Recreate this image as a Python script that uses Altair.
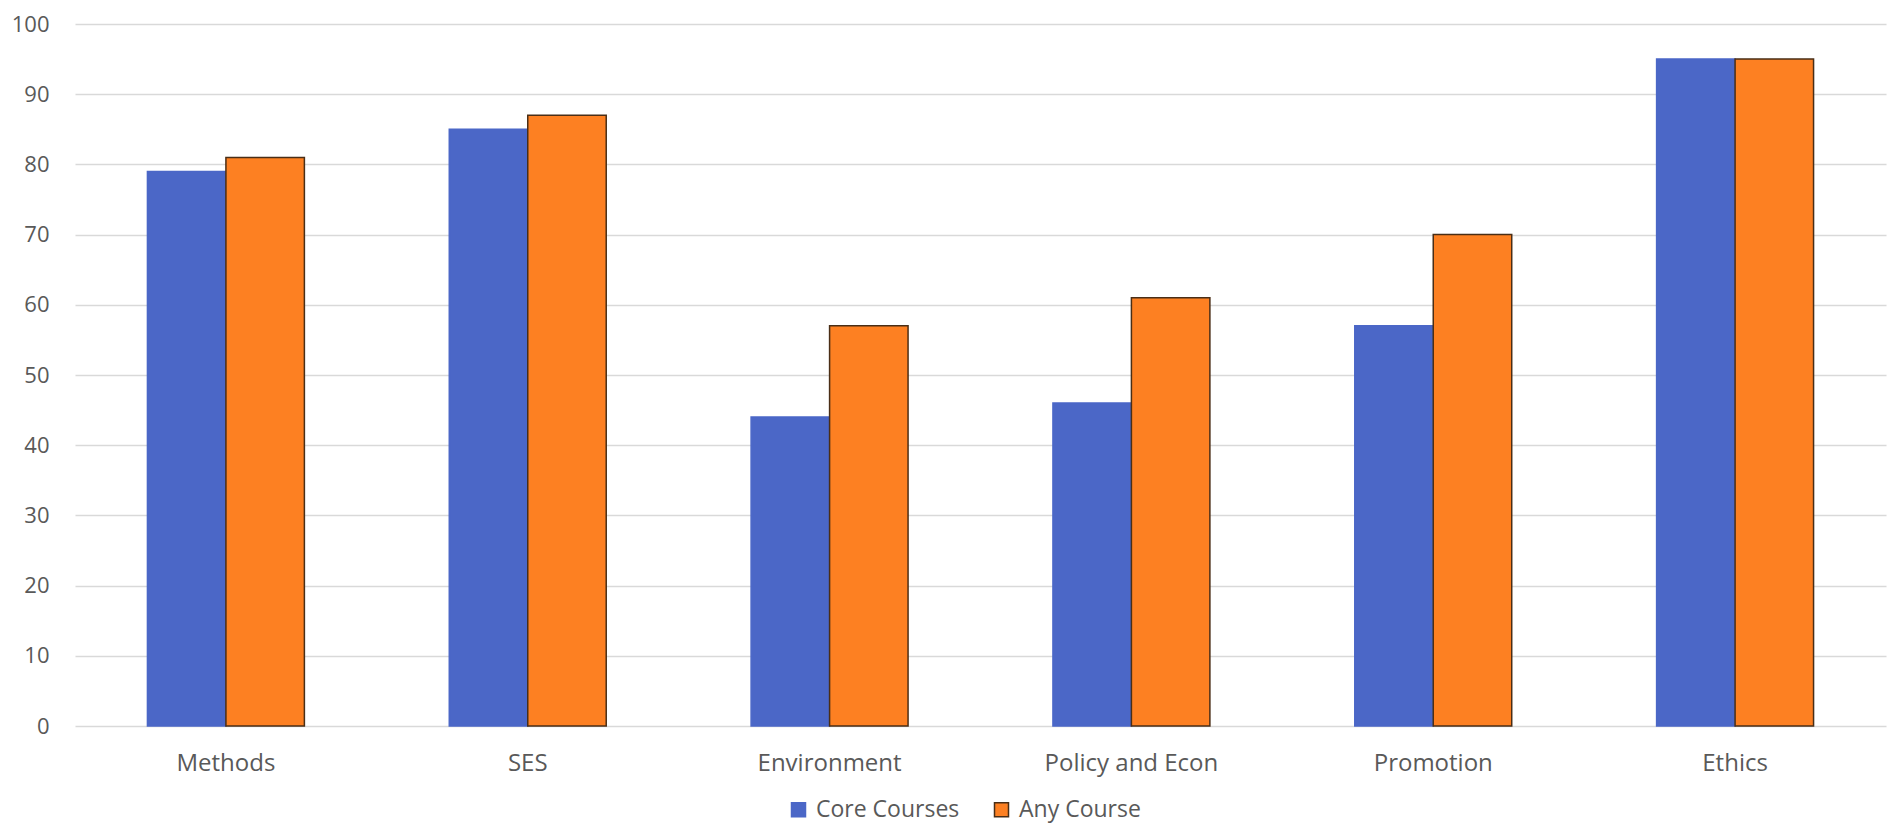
import altair as alt
import pandas as pd

categories = ["Methods", "SES", "Environment", "Policy and Econ", "Promotion", "Ethics"]
core_courses = [79, 85, 44, 46, 57, 95]
any_course = [81, 87, 57, 61, 70, 95]
series = ["Core Courses", "Any Course"]

rows = []
for c, a, b in zip(categories, core_courses, any_course):
    rows.append({"category": c, "series": series[0], "value": a})
    rows.append({"category": c, "series": series[1], "value": b})
df = pd.DataFrame(rows)

FONT = "Open Sans"
GRAY = "#595959"

legend_cfg = dict(orient="none", direction="horizontal",
                  legendX=712, legendY=774,
                  symbolType="square", symbolSize=196,
                  symbolStrokeWidth=1.5,
                  labelFont=FONT, labelFontSize=23, labelColor=GRAY,
                  labelOffset=6, columnPadding=30)

chart = alt.Chart(df).mark_bar(strokeWidth=1.5).encode(
    x=alt.X("category:N", sort=categories, title=None,
            scale=alt.Scale(paddingInner=0.48, paddingOuter=0.24),
            axis=alt.Axis(labelAngle=0, ticks=False, domain=False, grid=False,
                          labelFont=FONT, labelFontSize=24, labelColor=GRAY,
                          labelPadding=25)),
    xOffset=alt.XOffset("series:N", sort=series, scale=alt.Scale(paddingInner=0, paddingOuter=0)),
    y=alt.Y("value:Q", title=None,
            scale=alt.Scale(domain=[0, 100]),
            axis=alt.Axis(values=list(range(0, 101, 10)), ticks=False, domain=False,
                          grid=True, gridColor="#d9d9d9", gridWidth=1.5,
                          labelFont=FONT, labelFontSize=22, labelColor=GRAY,
                          labelPadding=26)),
    color=alt.Color("series:N", sort=series, title=None,
                    scale=alt.Scale(domain=series, range=["#4b67c7", "#fd8022"]),
                    legend=alt.Legend(**legend_cfg)),
    stroke=alt.Stroke("series:N", sort=series, title=None,
                      scale=alt.Scale(domain=series, range=["#4b67c7", "#4a2e16"]),
                      legend=alt.Legend(**legend_cfg)),
).properties(
    width=1811, height=702,
    background="white",
    autosize=alt.AutoSizeParams(type="none"),
    padding={"left": 67, "top": 16, "right": 8, "bottom": 100},
).configure_view(stroke=None)

chart.save("out.html", embed_options={"renderer": "svg", "actions": False})
